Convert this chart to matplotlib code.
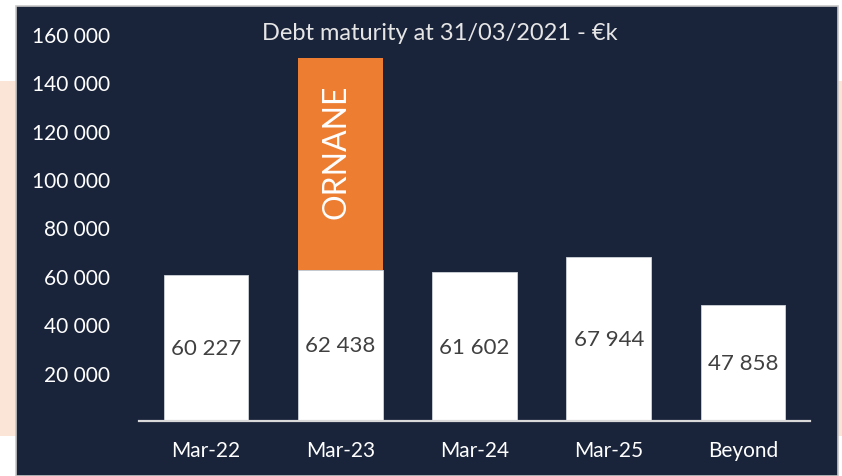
import matplotlib
matplotlib.use("Agg")
import matplotlib.pyplot as plt
from matplotlib.patches import Rectangle
from matplotlib.transforms import offset_copy

categories = ["Mar-22", "Mar-23", "Mar-24", "Mar-25", "Beyond"]
debt_values = [60227, 62438, 61602, 67944, 47858]
ornane_values = [0, 87562, 0, 0, 0]
ornane_label = "ORNANE"
title = "Debt maturity at 31/03/2021 - €k"
y_ticks = [20000, 40000, 60000, 80000, 100000, 120000, 140000, 160000]

NAVY = "#19233a"
ORANGE = "#ed7d31"
PEACH = "#fbe5d6"
FONT = ["Lato", "DejaVu Sans"]

W, H = 842, 477
fig = plt.figure(figsize=(W / 100, H / 100), dpi=100)
fig.patch.set_facecolor("white")

# background decorations
fig.patches.append(Rectangle((0, 1 - 437 / H), 1, (437 - 82) / H,
                             transform=fig.transFigure, facecolor=PEACH,
                             edgecolor="none", zorder=0))
fig.patches.append(Rectangle((16 / W, 0), (838 - 16) / W, 1 - 7 / H,
                             transform=fig.transFigure, facecolor=NAVY,
                             edgecolor="#c8c8c8", linewidth=1.2, zorder=1))

ax = fig.add_axes([139 / W, 1 - 422 / H, (810 - 139) / W, (422 - 35) / H])
ax.set_facecolor("none")
ax.set_zorder(2)

x = list(range(len(categories)))
bw = 0.63
ax.bar(x, debt_values, width=bw, color="white", edgecolor="#d0d4da",
       linewidth=0.6, zorder=3)
ax.bar(x, ornane_values, width=bw, bottom=debt_values, color=ORANGE,
       edgecolor="none", zorder=3)

for xi, v in zip(x, debt_values):
    ax.text(xi, v / 2, f"{v:,}".replace(",", " "), ha="center", va="center",
            color="#404040", fontsize=16, family=FONT, zorder=4)

for xi, b, v in zip(x, debt_values, ornane_values):
    if v > 0:
        tr = offset_copy(ax.transData, fig=fig, x=-4, y=13, units="dots")
        ax.text(xi, b + v / 2, ornane_label, ha="center", va="center",
                rotation=90, color="white", fontsize=23, fontweight="normal",
                family=FONT, transform=tr, zorder=4)

ax.set_xlim(-0.5, 4.5)
ax.set_ylim(0, 160000)
ax.set_xticks(x)
ax.set_xticklabels(categories)
ax.set_yticks(y_ticks)
ax.set_yticklabels([f"{t:,}".replace(",", " ") for t in y_ticks])
ax.tick_params(axis="both", length=0, colors="white", labelsize=15)
ax.tick_params(axis="y", pad=21)
ax.tick_params(axis="x", pad=14)
for lab in ax.get_xticklabels() + ax.get_yticklabels():
    lab.set_family(FONT)

for s in ["top", "right", "left"]:
    ax.spines[s].set_visible(False)
ax.spines["bottom"].set_color("#d9d9d9")
ax.spines["bottom"].set_linewidth(1.6)
ax.spines["bottom"].set_zorder(5)

fig.text(440 / W, 1 - 33 / H, title, ha="center", va="center", color="#e6e6e6",
         fontsize=17, fontweight="normal", family=FONT, zorder=3)

fig.savefig("out.png", dpi=100, facecolor=fig.get_facecolor())
